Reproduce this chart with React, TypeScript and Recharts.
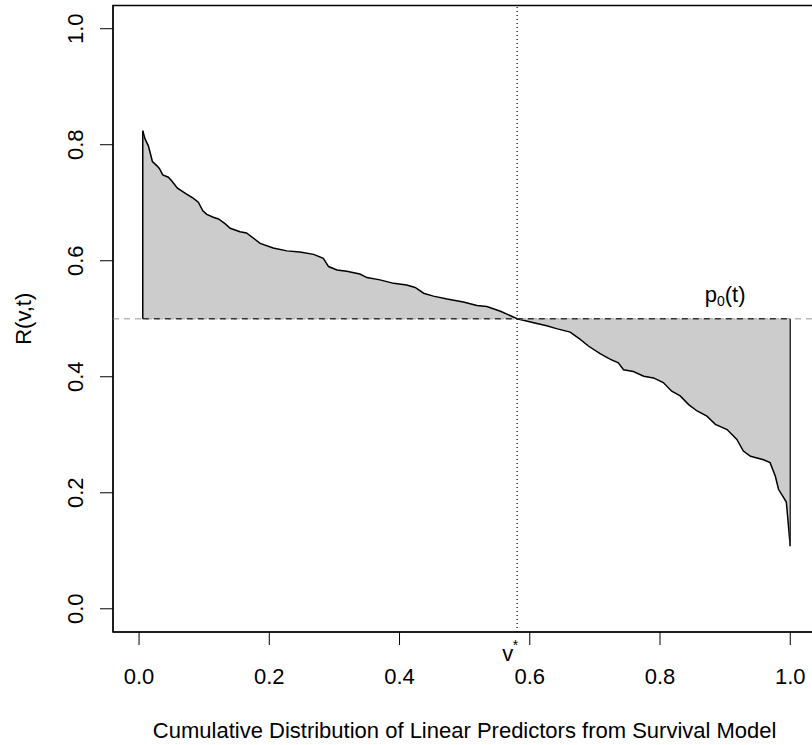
import React from 'react';
import { ComposedChart, Area, XAxis, YAxis, ReferenceLine, ReferenceArea, ReferenceDot } from 'recharts';

// cumulative distribution of the linear predictor (v) and R(v,t)
const curveX = [
  0.0057, 0.0092, 0.0143, 0.0169, 0.0205, 0.0272, 0.0312, 0.0364, 0.045, 0.05,
  0.059, 0.073, 0.083, 0.091, 0.098, 0.104, 0.114, 0.122, 0.132, 0.14,
  0.155, 0.165, 0.186, 0.206, 0.227, 0.247, 0.268, 0.283, 0.291, 0.304,
  0.319, 0.339, 0.35, 0.37, 0.391, 0.411, 0.424, 0.437, 0.452, 0.473,
  0.498, 0.519, 0.534, 0.555, 0.565, 0.5806, 0.606, 0.626, 0.641, 0.662,
  0.677, 0.69, 0.708, 0.724, 0.736, 0.744, 0.759, 0.775, 0.79, 0.805,
  0.818, 0.831, 0.844, 0.857, 0.872, 0.885, 0.903, 0.918, 0.928, 0.939,
  0.959, 0.969, 0.977, 0.982, 0.994, 1.0,
];
const curveY = [
  0.824, 0.81, 0.798, 0.787, 0.771, 0.764, 0.759, 0.748, 0.744, 0.738,
  0.725, 0.715, 0.708, 0.701, 0.686, 0.68, 0.675, 0.672, 0.664, 0.656,
  0.65, 0.648, 0.63, 0.622, 0.617, 0.615, 0.611, 0.604, 0.59, 0.584,
  0.582, 0.577, 0.571, 0.567, 0.561, 0.558, 0.554, 0.544, 0.539, 0.534,
  0.529, 0.523, 0.521, 0.513, 0.508, 0.5, 0.493, 0.488, 0.483, 0.477,
  0.465, 0.453, 0.44, 0.43, 0.424, 0.412, 0.409, 0.401, 0.398, 0.39,
  0.375, 0.367, 0.352, 0.341, 0.332, 0.318, 0.309, 0.292, 0.272, 0.263,
  0.257, 0.252, 0.229, 0.206, 0.184, 0.108,
];

const xTicks = [0, 0.2, 0.4, 0.6, 0.8, 1.0];
const yTicks = [0, 0.2, 0.4, 0.6, 0.8, 1.0];
const p0 = 0.5;
const vStar = 0.5806;
const p0LabelX = 0.9;

const data = curveX.map((x, i) => ({ x, y: curveY[i] }));
const FONT = '"Liberation Sans", Arial, Helvetica, sans-serif';

const YTick = (props: any) => {
  const { x, y, payload } = props;
  return (
    <text x={x} y={y} transform={`rotate(-90, ${x}, ${y})`} textAnchor="middle" fontSize={22} fill="#000" fontFamily={FONT}>
      {Number(payload.value).toFixed(1)}
    </text>
  );
};

export default function App() {
  const first = data[0];
  const last = data[data.length - 1];
  return (
    <div style={{ position: 'absolute', left: 0, top: 0, width: 812, height: 745, overflow: 'hidden', background: '#fff', fontFamily: FONT }}>
      <ComposedChart width={830} height={745} data={data} margin={{ top: 5.5, right: 13.7, left: 0, bottom: 0 }}>
        <XAxis
          dataKey="x" type="number" domain={[-0.04, 1.04]} allowDataOverflow ticks={xTicks}
          tickFormatter={(v: number) => v.toFixed(1)} height={113} tickSize={13} tickMargin={23}
          stroke="#000" tick={{ fill: '#000', fontSize: 22, fontFamily: FONT }}
          label={{
            content: (p: any) => (
              <text x={p.viewBox.x + p.viewBox.width / 2} y={p.viewBox.y + p.viewBox.height - 7} textAnchor="middle" fontSize={22} fill="#000" fontFamily={FONT}>
                Cumulative Distribution of Linear Predictors from Survival Model
              </text>
            ),
          }}
        />
        <YAxis
          type="number" domain={[-0.04, 1.04]} allowDataOverflow ticks={yTicks} width={113}
          tickSize={13} tickMargin={17} stroke="#000" tick={<YTick />}
          label={{
            content: (p: any) => {
              const lx = p.viewBox.x + 31;
              const ly = p.viewBox.y + p.viewBox.height / 2;
              return (
                <text x={lx} y={ly} transform={`rotate(-90, ${lx}, ${ly})`} textAnchor="middle" fontSize={22} fill="#000" fontFamily={FONT}>
                  R(v,t)
                </text>
              );
            },
          }}
        />
        <Area
          type="linear" dataKey="y" baseValue={p0} fill="#cccccc" fillOpacity={1}
          stroke="#000" strokeWidth={1.5} dot={false} activeDot={false} isAnimationActive={false}
        />
        <ReferenceLine y={p0} stroke="#b8b8b8" strokeWidth={1.5} strokeDasharray="6 5" ifOverflow="visible" />
        <ReferenceLine segment={[{ x: first.x, y: p0 }, { x: last.x, y: p0 }]} stroke="#333" strokeWidth={1.5} strokeDasharray="6 5" />
        <ReferenceLine segment={[{ x: first.x, y: p0 }, { x: first.x, y: first.y }]} stroke="#000" strokeWidth={1.5} />
        <ReferenceLine segment={[{ x: last.x, y: p0 }, { x: last.x, y: last.y }]} stroke="#333" strokeWidth={1.5} />
        <ReferenceLine
          x={vStar} stroke="#000" strokeWidth={1.2} strokeDasharray="1 3"
          label={{
            content: (p: any) => {
              const vb = p.viewBox;
              const bottom = vb.y + vb.height;
              return (
                <g>
                  <text x={vb.x - 15} y={bottom + 29} fontSize={22} fill="#000" fontFamily={FONT}>v</text>
                  <text x={vb.x - 4.5} y={bottom + 18} fontSize={14} fill="#000" fontFamily={FONT}>*</text>
                </g>
              );
            },
          }}
        />
        <ReferenceDot
          x={p0LabelX} y={p0} r={0} fill="none" stroke="none"
          label={{
            content: (p: any) => {
              const vb = p.viewBox;
              const cx = vb.x + (vb.width || 0) / 2;
              const cy = vb.y + (vb.height || 0) / 2;
              return (
                <text x={cx} y={cy - 16.5} textAnchor="middle" fontSize={22} fill="#000" fontFamily={FONT}>
                  p<tspan fontSize={14} dy={4}>0</tspan><tspan dy={-4}>(t)</tspan>
                </text>
              );
            },
          }}
        />
        <ReferenceArea x1={-0.04} x2={1.04} y1={-0.04} y2={1.04} fill="none" stroke="#000" strokeWidth={1.5} ifOverflow="visible" />
      </ComposedChart>
    </div>
  );
}
